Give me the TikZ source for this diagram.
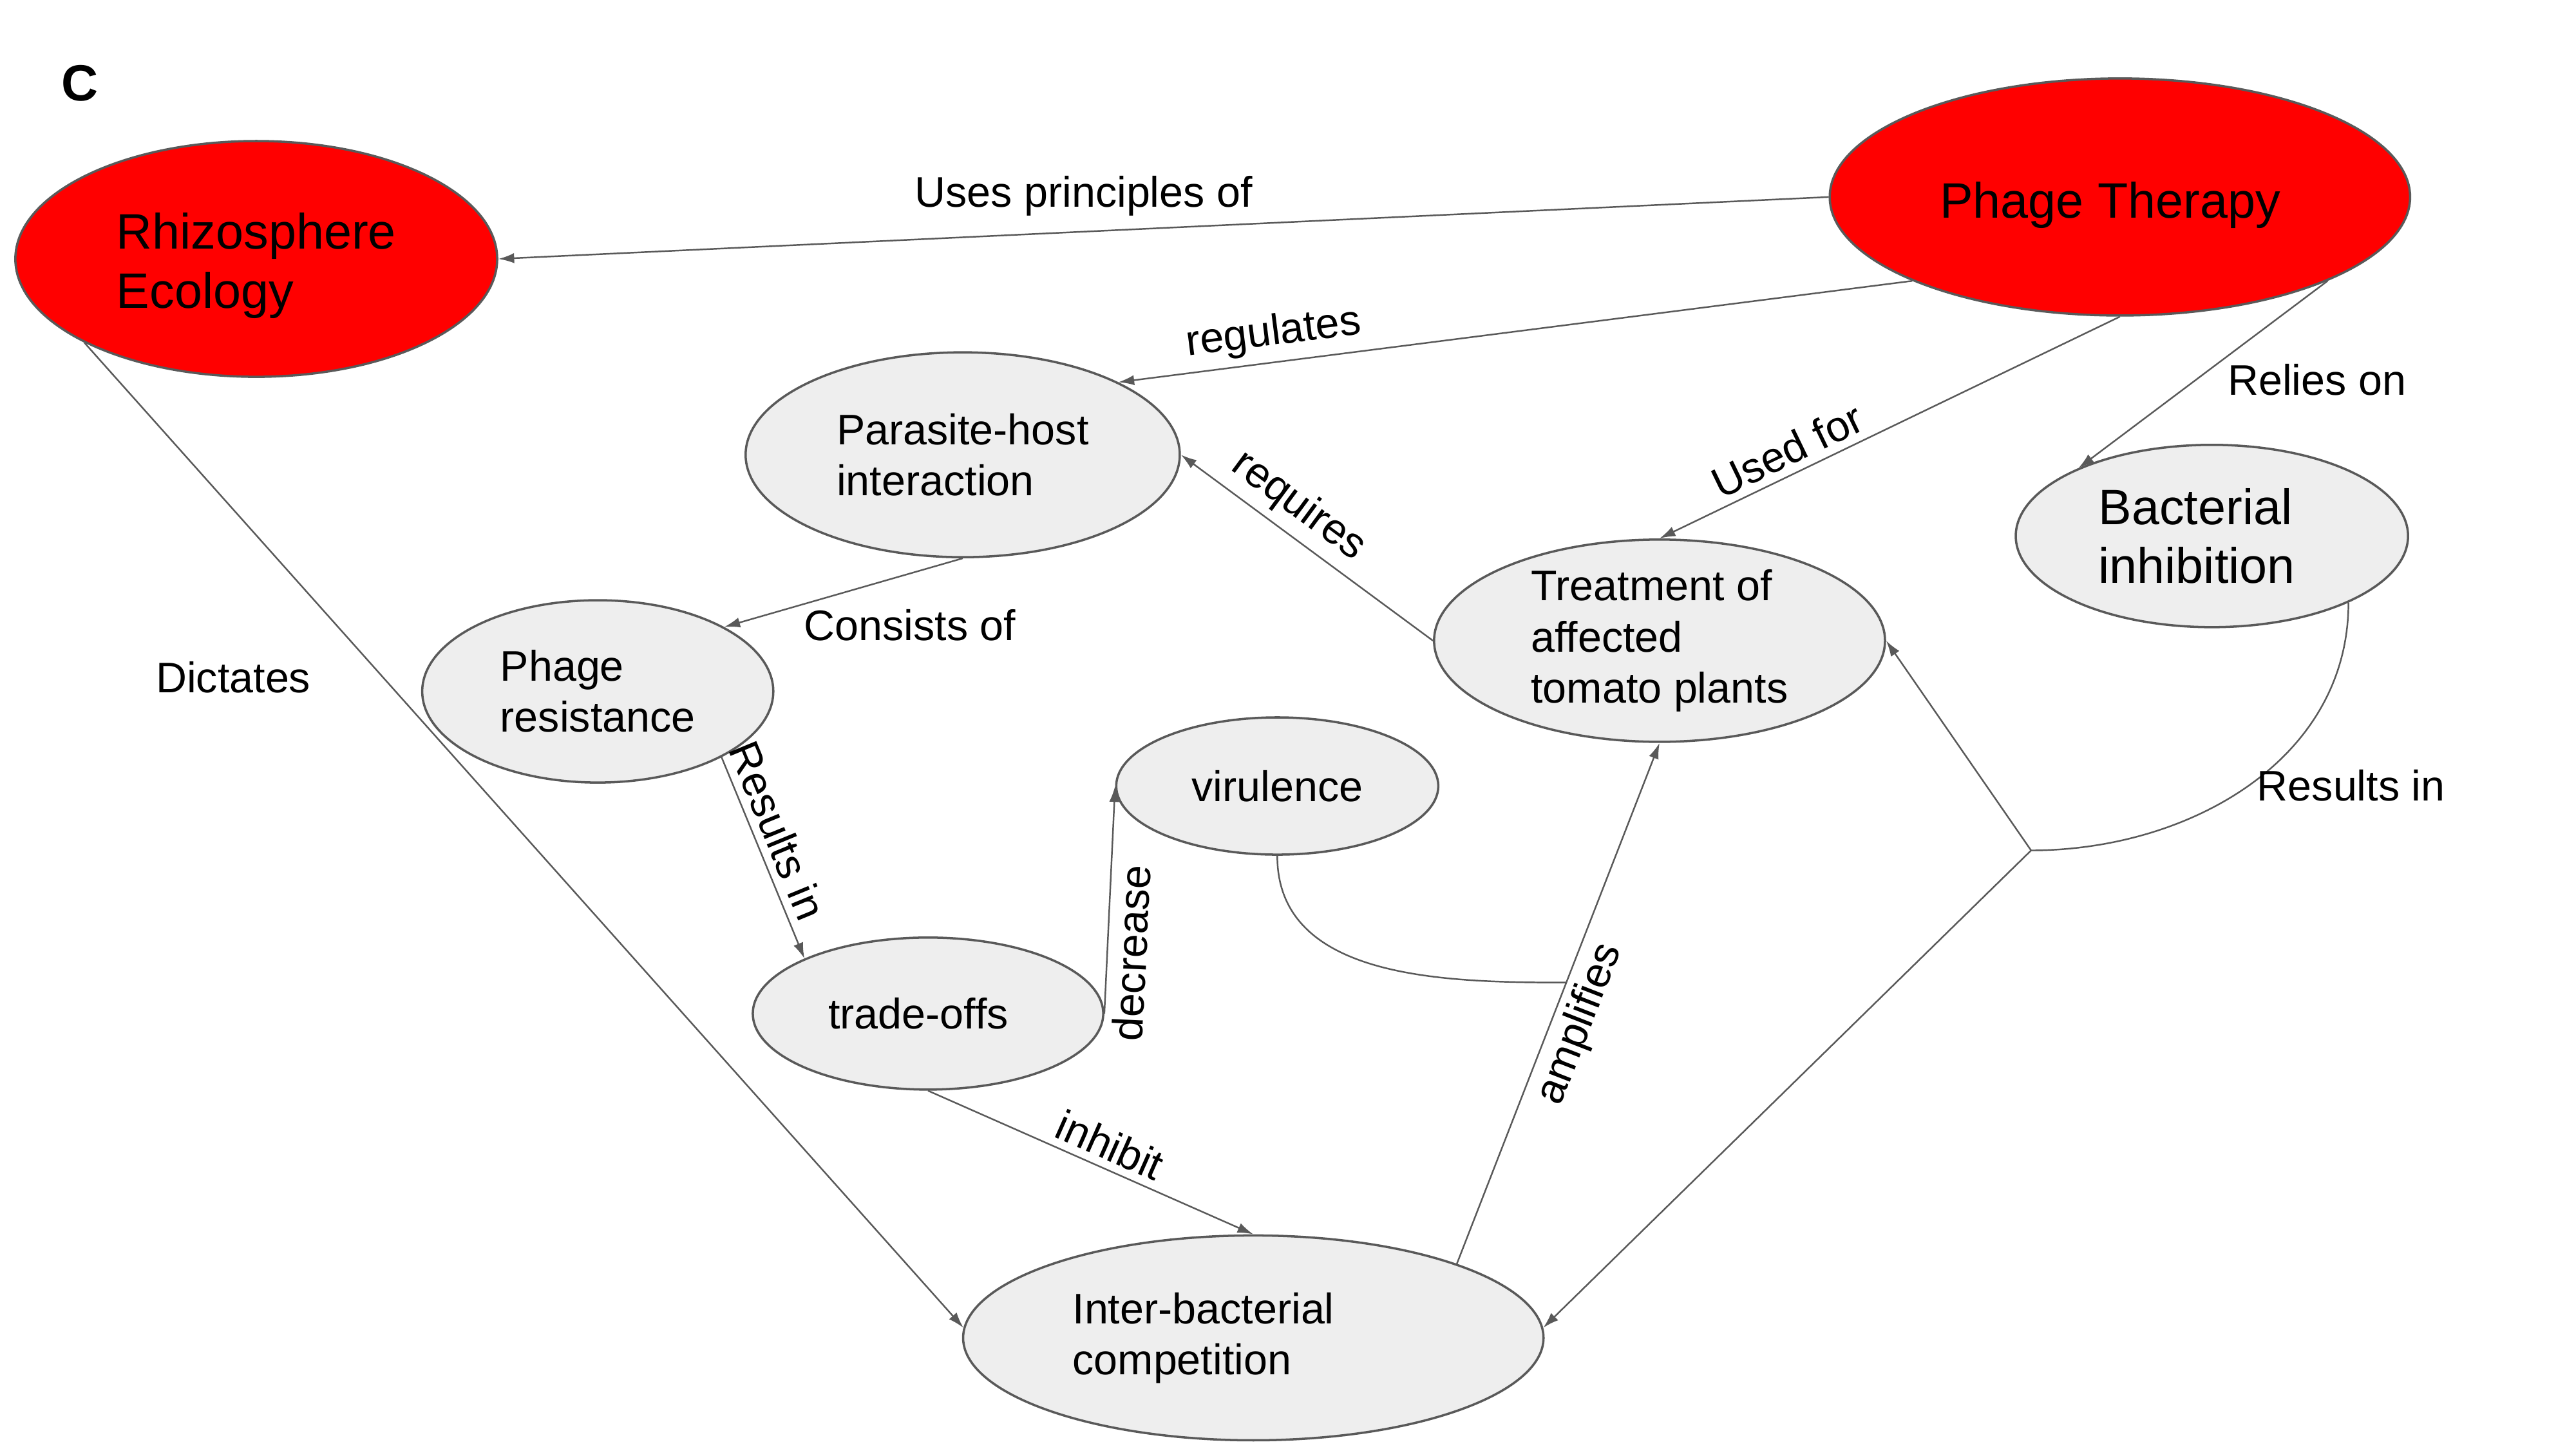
\documentclass[tikz,border=0pt]{standalone}
\usepackage{fontspec}
\setmainfont{Liberation Sans}
\usetikzlibrary{arrows.meta,positioning,shapes.geometric}

\definecolor{edgegrey}{HTML}{595959}
\definecolor{cellgrey}{HTML}{EEEEEE}
\definecolor{hubred}{HTML}{FF0000}

\begin{document}
\begin{tikzpicture}[x=0.025641cm,y=-0.025641cm,->,>={Latex[length=7pt,width=4.5pt]},
    font=\fontsize{18.9}{22.5}\selectfont,
    link/.style={draw=edgegrey,line width=0.7pt},
    every edge/.style={link},
    concept/.style={ellipse,draw=edgegrey,line width=1pt,fill=cellgrey,inner sep=0pt,align=left},
    hub/.style={concept,fill=hubred,font=\fontsize{22}{26}\selectfont},
    bigtext/.style={font=\fontsize{22}{26}\selectfont}]
      \useasboundingbox (0,0) rectangle (1560,877.5);
      \node (tag) [font=\fontsize{22.5}{26}\selectfont\bfseries] at (48.2,50.6) {C};
      \node (R) [hub,minimum width=7.48cm,minimum height=3.66cm] at (155.2,156.8) {\rule{0pt}{0.77cm}Rhizosphere\\Ecology};
      \node (P) [hub,minimum width=9.01cm,minimum height=3.68cm] at (1283.8,119.3) {\rule{0pt}{0.82cm}Phage Therapy\rule{0.3cm}{0pt}};
      \node (H) [concept,minimum width=6.74cm,minimum height=3.18cm] at (583,275.4) {Parasite-host\\interaction};
      \node (S) [concept,minimum width=5.45cm,minimum height=2.83cm] at (362,418.7) {Phage\\resistance};
      \node (O) [concept,minimum width=5.44cm,minimum height=2.36cm] at (562,613.8) {trade-offs\rule{0.3cm}{0pt}};
      \node (V) [concept,minimum width=5cm,minimum height=2.13cm] at (773.5,476) {virulence};
      \node (T) [concept,minimum width=7cm,minimum height=3.14cm] at (1005,388) {Treatment of\\affected\\tomato plants};
      \node (B) [concept,bigtext,minimum width=6.09cm,minimum height=2.83cm] at (1339.5,324.6) {Bacterial\\inhibition\rule{0.47cm}{0pt}};
      \node (I) [concept,minimum width=9.01cm,minimum height=3.18cm] at (759,810.2) {Inter-bacterial\rule{1.55cm}{0pt}\\competition};
      \path[->]
      (P.west) edge node[above=0.12cm,pos=0.56] {Uses principles of} (R.east)
      (P.202) edge node[above,sloped,pos=0.8] {regulates} (H.25)
      (P.south) edge node[above,sloped,pos=0.7] {Used for} (T.north)
      (P.-22) edge node[right=0.37cm,pos=0.53] {Relies on} (B.153)
      (T.west) edge node[above,sloped,pos=0.6] {requires} (H.east)
      (H.south) edge node[below right,yshift=0.08cm,pos=0.7] {Consists of} (S.27)
      (S.-28) edge node[above,sloped,pos=0.41] {Results in} (O.156)
      (O.east) edge node[below,sloped,pos=0.27] {decrease} (V.west)
      (O.south) edge node[above,sloped,pos=0.53] {inhibit} (I.north)
      (R.206) edge node[left=1cm,pos=0.34] {Dictates} (I.178);
      \draw[->,link] (I.20) -- coordinate[pos=0.54] (M) node[below,sloped,pos=0.48] {amplifies} (T.south);
      \draw[-,link] (V.south) to[out=-90,in=180] (M);
      \coordinate (J) at (1230,515);
      \draw[-,link] (B.-26) to[out=-90,in=0] node[right,pos=0.5] {Results in} (J);
      \path[->] (J) edge (T.east) (J) edge (I.2);
\end{tikzpicture}
\end{document}
